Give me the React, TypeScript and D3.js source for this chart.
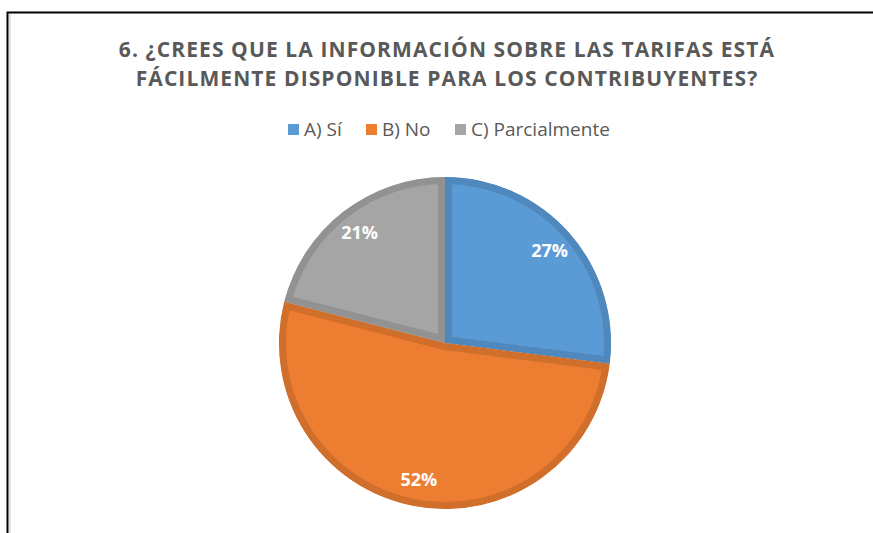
import * as d3 from "d3";
import React, { useRef, useEffect } from "react";

const categories = ["A) Sí", "B) No", "C) Parcialmente"];
const values = [27, 52, 21];
const fills = ["#5B9BD5", "#ED7D31", "#A5A5A5"];
const strokes = ["#4F88BD", "#D06E2B", "#929292"];
const titleLines = [
  "6. ¿CREES QUE LA INFORMACIÓN SOBRE LAS TARIFAS ESTÁ",
  "FÁCILMENTE DISPONIBLE PARA LOS CONTRIBUYENTES?",
];

const W = 873;
const H = 533;

const drawChart = (node: SVGSVGElement) => {
  const svg = d3.select(node);
  svg.selectAll("*").remove();

  // frame (no bottom / right edge visible)
  svg
    .append("path")
    .attr("d", `M7.5,${H + 5} L7.5,12.5 L${W + 5},12.5`)
    .style("fill", "none")
    .style("stroke", "#000")
    .style("stroke-width", 2);
  svg
    .append("line")
    .attr("x1", 10)
    .attr("x2", 10)
    .attr("y1", 14)
    .attr("y2", H)
    .style("stroke", "#d9d9d9")
    .style("stroke-width", 1.5);

  // title
  svg
    .append("g")
    .selectAll("text")
    .data(titleLines)
    .join("text")
    .attr("x", 447)
    .attr("y", (d, i) => 57 + i * 29)
    .style("text-anchor", "middle")
    .style("font-family", "'Open Sans', sans-serif")
    .style("font-weight", "bold")
    .style("font-size", "21px")
    .style("letter-spacing", "1.1px")
    .style("fill", "#595959")
    .text((d) => d);

  // legend
  const legendX = [288, 366, 455];
  const legend = svg
    .append("g")
    .selectAll("g")
    .data(categories)
    .join("g")
    .attr("transform", (d, i) => `translate(${legendX[i]},129)`);
  legend
    .append("rect")
    .attr("x", 0)
    .attr("y", -5)
    .attr("width", 11)
    .attr("height", 11)
    .style("fill", (d, i) => fills[i]);
  legend
    .append("text")
    .attr("x", 16)
    .attr("dy", "0.35em")
    .style("font-family", "'Open Sans', sans-serif")
    .style("font-size", "19px")
    .style("fill", "#595959")
    .text((d) => d);

  // pie
  const cx = 445;
  const cy = 343;
  const r = 166;
  const pie = d3
    .pie<number>()
    .sort(null)
    .value((d) => d);
  const arcs = pie(values);
  const arc = d3.arc<d3.PieArcDatum<number>>().innerRadius(0).outerRadius(r);
  const labelArc = d3
    .arc<d3.PieArcDatum<number>>()
    .innerRadius(r * 0.84)
    .outerRadius(r * 0.84);

  const gPie = svg.append("g").attr("transform", `translate(${cx},${cy})`);
  const defs = svg.append("defs");
  arcs.forEach((a, i) => {
    defs
      .append("clipPath")
      .attr("id", "clip" + i)
      .append("path")
      .attr("d", arc(a) as string);
  });

  gPie
    .selectAll("path.slice")
    .data(arcs)
    .join("path")
    .attr("class", "slice")
    .attr("d", arc)
    .attr("clip-path", (d, i) => `url(#clip${i})`)
    .style("fill", (d, i) => fills[i])
    .style("stroke", (d, i) => strokes[i])
    .style("stroke-width", 14)
    .style("stroke-linejoin", "miter");

  gPie
    .selectAll("text")
    .data(arcs)
    .join("text")
    .attr("transform", (d) => `translate(${labelArc.centroid(d)})`)
    .attr("dy", "0.35em")
    .style("text-anchor", "middle")
    .style("font-family", "'Open Sans', sans-serif")
    .style("font-weight", "bold")
    .style("font-size", "18px")
    .style("fill", "#fff")
    .text((d) => d.data + "%");
};

const App = () => {
  const myRef = useRef<SVGSVGElement>(null);

  useEffect(() => {
    if (myRef.current) drawChart(myRef.current);
  }, []);

  return (
    <svg
      ref={myRef}
      width={W}
      height={H}
      style={{ position: "absolute", left: 0, top: 0, background: "#fff" }}
    ></svg>
  );
};

export default App;
